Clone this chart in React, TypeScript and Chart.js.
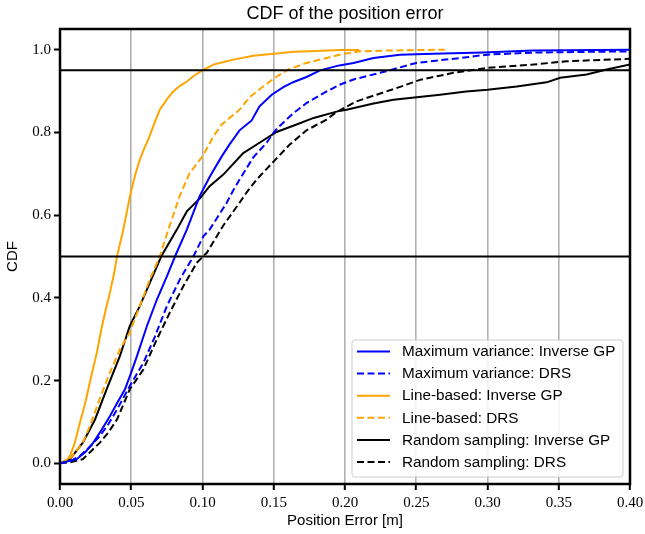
import React, { useEffect, useRef } from "react";
import { Chart, registerables } from "chart.js";

Chart.register(...registerables);

// ---- Data ----
const xTickValues = [0, 0.05, 0.1, 0.15, 0.2, 0.25, 0.3, 0.35, 0.4];
const yTickValues = [0, 0.2, 0.4, 0.6, 0.8, 1.0];
const referenceLevels = [0.5, 0.95];

const maxVarInverseGP: [number, number][] = [
  [0, 0], [0.0117, 0.01], [0.018, 0.028], [0.0234, 0.05], [0.029, 0.08], [0.035, 0.114],
  [0.04, 0.145], [0.0456, 0.179], [0.05, 0.22], [0.054, 0.259], [0.061, 0.332], [0.068, 0.396],
  [0.075, 0.452], [0.0807, 0.5], [0.089, 0.565], [0.098, 0.646], [0.105, 0.692], [0.1135, 0.742],
  [0.119, 0.771], [0.126, 0.805], [0.1345, 0.829], [0.14, 0.863], [0.1486, 0.891], [0.157, 0.91],
  [0.164, 0.922], [0.173, 0.934], [0.1825, 0.95], [0.196, 0.962], [0.206, 0.968], [0.22, 0.98],
  [0.2386, 0.988], [0.262, 0.99], [0.297, 0.993], [0.332, 0.998], [0.4, 1.0],
];

const maxVarDRS: [number, number][] = [
  [0, 0], [0.007, 0.005], [0.014, 0.018], [0.021, 0.04], [0.028, 0.066], [0.034, 0.095],
  [0.04, 0.13], [0.049, 0.187], [0.0585, 0.243], [0.0667, 0.307], [0.075, 0.38], [0.084, 0.444],
  [0.0936, 0.5], [0.1006, 0.549], [0.105, 0.565], [0.117, 0.63], [0.1216, 0.66], [0.126, 0.686],
  [0.1357, 0.74], [0.145, 0.775], [0.15, 0.8], [0.154, 0.815], [0.164, 0.847], [0.173, 0.871],
  [0.185, 0.895], [0.196, 0.915], [0.206, 0.928], [0.229, 0.948], [0.25, 0.968], [0.281, 0.98],
  [0.3, 0.988], [0.332, 0.993], [0.4, 0.996],
];

const lineInverseGP: [number, number][] = [
  [0, 0], [0.004, 0.005], [0.007, 0.018], [0.01, 0.045], [0.014, 0.098], [0.018, 0.15],
  [0.022, 0.211], [0.026, 0.27], [0.029, 0.324], [0.032, 0.37], [0.035, 0.412], [0.038, 0.46],
  [0.04, 0.5], [0.0444, 0.565], [0.0496, 0.654], [0.053, 0.7], [0.056, 0.734], [0.059, 0.76],
  [0.062, 0.783], [0.066, 0.82], [0.07, 0.855], [0.075, 0.88], [0.0795, 0.899], [0.084, 0.912],
  [0.089, 0.923], [0.094, 0.937], [0.1, 0.95], [0.1076, 0.964], [0.115, 0.97], [0.1216, 0.976],
  [0.1357, 0.9855], [0.15, 0.99], [0.164, 0.995], [0.18, 0.997], [0.196, 0.999], [0.209, 0.999],
  [0.21, 1.0],
];

const lineDRS: [number, number][] = [
  [0, 0], [0.008, 0.015], [0.016, 0.05], [0.021, 0.09], [0.026, 0.138], [0.03, 0.175],
  [0.034, 0.211], [0.038, 0.243], [0.042, 0.275], [0.049, 0.316], [0.052, 0.345], [0.056, 0.38],
  [0.063, 0.444], [0.07, 0.5], [0.076, 0.565], [0.084, 0.646], [0.091, 0.702], [0.1, 0.742],
  [0.1076, 0.79], [0.1135, 0.819], [0.12, 0.838], [0.126, 0.855], [0.133, 0.885], [0.143, 0.912],
  [0.15, 0.93], [0.16, 0.952], [0.173, 0.968], [0.187, 0.98], [0.199, 0.99], [0.2105, 0.996],
  [0.23, 0.998], [0.25, 0.999], [0.27, 1.0],
];

const randomInverseGP: [number, number][] = [
  [0, 0], [0.007, 0.01], [0.016, 0.05], [0.0246, 0.106], [0.0327, 0.179], [0.042, 0.259],
  [0.049, 0.332], [0.056, 0.38], [0.063, 0.436], [0.071, 0.5], [0.082, 0.565], [0.089, 0.609],
  [0.098, 0.64], [0.105, 0.67], [0.1146, 0.698], [0.1286, 0.75], [0.14, 0.775], [0.152, 0.801],
  [0.166, 0.819], [0.178, 0.835], [0.196, 0.852], [0.201, 0.855], [0.22, 0.87], [0.234, 0.879],
  [0.2667, 0.891], [0.285, 0.899], [0.3, 0.903], [0.3205, 0.911], [0.3415, 0.921], [0.351, 0.932],
  [0.3696, 0.94], [0.3836, 0.952], [0.4, 0.964],
];

const randomDRS: [number, number][] = [
  [0, 0], [0.008, 0.003], [0.016, 0.01], [0.022, 0.03], [0.028, 0.05], [0.034, 0.075],
  [0.04, 0.106], [0.049, 0.179], [0.0585, 0.227], [0.068, 0.3], [0.077, 0.364], [0.0865, 0.428],
  [0.096, 0.485], [0.103, 0.509], [0.1146, 0.575], [0.126, 0.63], [0.131, 0.655], [0.138, 0.686],
  [0.15, 0.73], [0.161, 0.77], [0.173, 0.805], [0.187, 0.831], [0.194, 0.849], [0.208, 0.875],
  [0.222, 0.891], [0.2386, 0.91], [0.2526, 0.927], [0.276, 0.944], [0.3, 0.956], [0.332, 0.964],
  [0.3556, 0.972], [0.4, 0.978],
];

const seriesLabels = [
  "Maximum variance: Inverse GP",
  "Maximum variance: DRS",
  "Line-based: Inverse GP",
  "Line-based: DRS",
  "Random sampling: Inverse GP",
  "Random sampling: DRS",
];
const seriesData = [maxVarInverseGP, maxVarDRS, lineInverseGP, lineDRS, randomInverseGP, randomDRS];
const seriesColors = ["#0000ff", "#0000ff", "#ffa500", "#ffa500", "#000000", "#000000"];
const seriesDashed = [false, true, false, true, false, true];

const titleText = "CDF of the position error";
const xAxisLabel = "Position Error [m]";
const yAxisLabel = "CDF";

// ---- Styling ----
const SERIF = '"Liberation Serif", "Times New Roman", serif';
const SANS = '"Liberation Sans", Arial, Helvetica, sans-serif';
const DASH = [7, 3.5];

const overlayPlugin = {
  id: "overlay",
  afterDatasetsDraw(chart: any) {
    const { ctx, chartArea: a } = chart;
    ctx.save();
    // spines
    ctx.strokeStyle = "#000";
    ctx.lineWidth = 2.5;
    ctx.setLineDash([]);
    ctx.strokeRect(a.left, a.top, a.right - a.left, a.bottom - a.top);

    // legend
    const bx = 352, by = 340, bw = 271, bh = 137, r = 3;
    ctx.beginPath();
    ctx.moveTo(bx + r, by);
    ctx.lineTo(bx + bw - r, by);
    ctx.arcTo(bx + bw, by, bx + bw, by + r, r);
    ctx.lineTo(bx + bw, by + bh - r);
    ctx.arcTo(bx + bw, by + bh, bx + bw - r, by + bh, r);
    ctx.lineTo(bx + r, by + bh);
    ctx.arcTo(bx, by + bh, bx, by + bh - r, r);
    ctx.lineTo(bx, by + r);
    ctx.arcTo(bx, by, bx + r, by, r);
    ctx.closePath();
    ctx.fillStyle = "rgba(255,255,255,0.85)";
    ctx.fill();
    ctx.strokeStyle = "#cccccc";
    ctx.lineWidth = 1;
    ctx.stroke();

    ctx.font = `15.3px ${SANS}`;
    ctx.textBaseline = "middle";
    ctx.textAlign = "left";
    seriesLabels.forEach((lab, i) => {
      const yy = 351.5 + i * 22.1;
      ctx.beginPath();
      ctx.strokeStyle = seriesColors[i];
      ctx.lineWidth = 2;
      ctx.setLineDash(seriesDashed[i] ? DASH : []);
      ctx.moveTo(357, yy);
      ctx.lineTo(390, yy);
      ctx.stroke();
      ctx.setLineDash([]);
      ctx.fillStyle = "#000";
      ctx.fillText(lab, 402, yy + 0.5);
    });

    // title and axis labels
    const cx = (a.left + a.right) / 2;
    ctx.fillStyle = "#000";
    ctx.textAlign = "center";
    ctx.font = `18px ${SANS}`;
    ctx.fillText(titleText, cx, 14.5);
    ctx.font = `15px ${SANS}`;
    ctx.fillText(xAxisLabel, cx, 521);
    ctx.save();
    ctx.translate(12.5, (a.top + a.bottom) / 2);
    ctx.rotate(-Math.PI / 2);
    ctx.fillText(yAxisLabel, 0, 0);
    ctx.restore();
    ctx.restore();
  },
};

export default function App() {
  const ref = useRef<HTMLCanvasElement>(null);
  useEffect(() => {
    if (!ref.current) return;
    const hlines = referenceLevels.map((lvl) => ({
      label: `ref ${lvl}`,
      data: [
        { x: xTickValues[0], y: lvl },
        { x: xTickValues[xTickValues.length - 1], y: lvl },
      ],
      borderColor: "#000",
      borderWidth: 2,
      pointRadius: 0,
      tension: 0,
    }));
    const series = seriesData.map((d, i) => ({
      label: seriesLabels[i],
      data: d.map(([x, y]) => ({ x, y })),
      borderColor: seriesColors[i],
      borderWidth: 2,
      borderDash: seriesDashed[i] ? DASH : [],
      pointRadius: 0,
      tension: 0,
      fill: false,
    }));
    const chart = new Chart(ref.current, {
      type: "line",
      data: { datasets: [...hlines, ...series] as any },
      options: {
        animation: false,
        responsive: false,
        devicePixelRatio: 1,
        layout: { padding: { top: 29, right: 15, bottom: 0, left: 0 } },
        plugins: { legend: { display: false }, title: { display: false }, tooltip: { enabled: false } },
        scales: {
          x: {
            type: "linear",
            min: 0,
            max: 0.4,
            afterBuildTicks: (s: any) => {
              s.ticks = xTickValues.map((v) => ({ value: v }));
            },
            afterFit: (s: any) => {
              s.height = 50;
              s.paddingLeft = 0;
              s.paddingRight = 0;
            },
            border: { display: false },
            grid: {
              color: "#b0b0b0",
              lineWidth: 1.6,
              drawTicks: true,
              tickLength: 6,
              tickColor: "#000",
              tickWidth: 2,
            },
            ticks: {
              autoSkip: false,
              maxRotation: 0,
              padding: 4,
              color: "#000",
              font: { family: SERIF, size: 15 },
              callback: (v: any) => Number(v).toFixed(2),
            },
          },
          y: {
            type: "linear",
            min: -0.05,
            max: 1.05,
            afterBuildTicks: (s: any) => {
              s.ticks = yTickValues.map((v) => ({ value: v }));
            },
            afterFit: (s: any) => {
              s.width = 60;
              s.paddingTop = 0;
              s.paddingBottom = 0;
            },
            border: { display: false },
            grid: {
              drawOnChartArea: false,
              drawTicks: true,
              tickLength: 6,
              tickColor: "#000",
              tickWidth: 2,
            },
            ticks: {
              padding: 3,
              color: "#000",
              font: { family: SERIF, size: 15 },
              callback: (v: any) => Number(v).toFixed(1),
            },
          },
        },
      } as any,
      plugins: [overlayPlugin],
    });
    return () => chart.destroy();
  }, []);
  return (
    <canvas
      ref={ref}
      width={645}
      height={534}
      style={{ position: "absolute", left: 0, top: 0, width: 645, height: 534 }}
    />
  );
}
